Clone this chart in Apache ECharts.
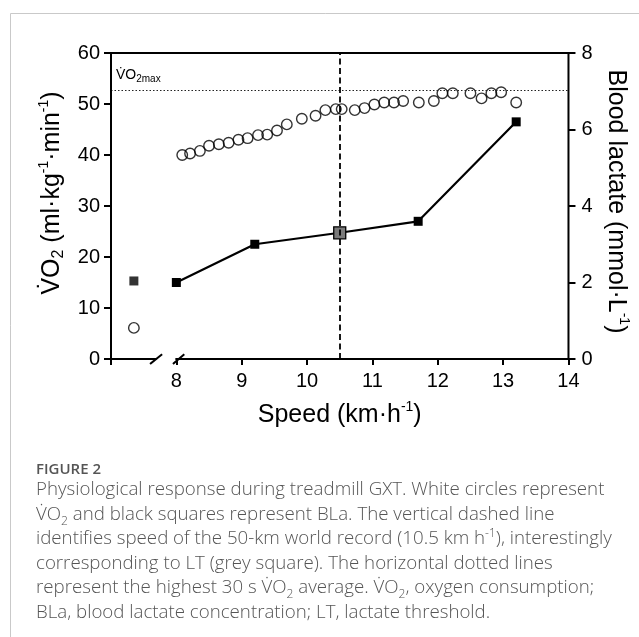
<!DOCTYPE html>
<html>
<head>
<meta charset="utf-8">
<script src="https://cdn.jsdelivr.net/npm/echarts@6/dist/echarts.min.js"></script>
<style>
  html, body { margin: 0; padding: 0; background: #fff; }
  #chart { width: 639px; height: 637px; }
  .cap { position: absolute; left: 36px; color: #555; font-family: "Open Sans", Lato, sans-serif; white-space: nowrap; }
  #figno { top: 459px; font-size: 15px; line-height: 18px; font-weight: 600; }
  #captext { top: 476px; font-size: 18.7px; line-height: 24.5px; font-weight: 300; }
  #captext sub, #captext sup { font-size: 12px; line-height: 0; }
  #done { position: absolute; left: 0; top: 0; width: 0; height: 0; overflow: hidden; }
</style>
</head>
<body>
<div id="chart"></div>
<div class="cap" id="figno">FIGURE 2</div>
<div class="cap" id="captext">Physiological response during treadmill GXT. White circles represent<br>V&#775;O<sub>2</sub> and black squares represent BLa. The vertical dashed line<br>identifies speed of the 50-km world record (10.5 km h<sup>-1</sup>), interestingly<br>corresponding to LT (grey square). The horizontal dotted lines<br>represent the highest 30 s V&#775;O<sub>2</sub> average. V&#775;O<sub>2</sub>, oxygen consumption;<br>BLa, blood lactate concentration; LT, lactate threshold.</div>
<div id="done"></div>
<script>
// VO2 during the GXT (white circles)
var vo2Speed = [8.09, 8.21, 8.36, 8.50, 8.65, 8.80, 8.95, 9.09, 9.25, 9.39, 9.54, 9.69, 9.92, 10.13, 10.28, 10.44,
    10.53, 10.73, 10.88, 11.03, 11.18, 11.33, 11.47, 11.71, 11.94, 12.07, 12.23, 12.50, 12.67, 12.82, 12.97, 13.20];
var vo2 = [40.0, 40.3, 40.8, 41.8, 42.1, 42.4, 43.0, 43.3, 43.9, 44.0, 44.8, 46.0, 47.1, 47.7, 48.8, 49.0,
    49.0, 48.8, 49.2, 49.9, 50.3, 50.3, 50.6, 50.3, 50.6, 52.1, 52.1, 52.1, 51.1, 52.1, 52.3, 50.3];

// blood lactate (black squares), LT is the grey one
var blaSpeed = [8, 9.2, 10.5, 11.7, 13.2];
var bla = [2.0, 3.0, 3.3, 3.6, 6.2];
var ltSpeed = 10.5;

// rest values, drawn left of the axis break
var restPos = 7.35;
var restVO2 = 6.1;
var restBLa = 2.04;

var vo2max = 52.7;
var recordSpeed = 10.5;

// axis ranges and the x axis break
var xMin = 7, xMax = 14;
var yMin = 0, yMax = 60;
var breakFrom = 7.68;
var breakTo = 8;

var chart = echarts.init(document.getElementById('chart'));
var font = 'Liberation Sans, Arial, sans-serif';

var blaData = blaSpeed.map(function (s, i) {
    var p = { value: [s, bla[i]] };
    if (s === ltSpeed) {
        p.symbolSize = 12;
        p.itemStyle = { color: '#7a7a7a', borderColor: '#000', borderWidth: 1.3 };
    }
    return p;
});

// frame segments [x1, y1, x2, y2] in axis units (left axis for y)
var frame = [
    [xMin, yMin, breakFrom, yMin],
    [breakTo, yMin, xMax, yMin],
    [breakFrom - 0.07, -0.85, breakFrom + 0.09, 0.8],
    [breakTo - 0.04, -0.85, breakTo + 0.11, 0.8],
    [xMin, yMin, xMin, yMax],
    [xMax, yMin, xMax, yMax],
    [xMin, yMax, xMax, yMax]
];

function axTick(len) {
    return { show: true, length: len, lineStyle: { color: '#000', width: 2 } };
}

var option = {
    animation: false,
    grid: { left: 111, right: 70, top: 53, bottom: 278 },
    xAxis: [{
        type: 'value', min: xMin, max: xMax, interval: 1, position: 'bottom',
        axisLine: { show: false, onZero: false },
        axisTick: axTick(6),
        axisLabel: {
            margin: 12, fontSize: 20, color: '#000', fontFamily: font,
            formatter: function (v) { return v === xMin ? '' : v; }
        },
        splitLine: { show: false },
        name: '{t|Speed (km·h}{sup|-1}{t|)}',
        nameLocation: 'middle', nameGap: 41,
        nameTextStyle: {
            rich: {
                t: { fontSize: 25, fontFamily: font, color: '#000', lineHeight: 30 },
                sup: { fontSize: 14, fontFamily: font, color: '#000', verticalAlign: 'top' }
            }
        }
    }],
    yAxis: [{
        type: 'value', min: yMin, max: yMax, interval: 10, position: 'left',
        axisLine: { show: false, onZero: false },
        axisTick: axTick(7),
        axisLabel: { margin: 11, fontSize: 20, color: '#000', fontFamily: font },
        splitLine: { show: false },
        name: '{t|V\u0307O}{sub|2}{t| (ml·kg}{sup|-1}{t|·min}{sup|-1}{t|)}',
        nameLocation: 'middle', nameGap: 38, nameRotate: 90,
        nameTextStyle: {
            padding: [0, 0, 0, 26],
            rich: {
                t: { fontSize: 25, fontFamily: font, color: '#000', lineHeight: 30 },
                sub: { fontSize: 16, fontFamily: font, color: '#000', verticalAlign: 'bottom' },
                sup: { fontSize: 14, fontFamily: font, color: '#000', verticalAlign: 'top' }
            }
        }
    }, {
        type: 'value', min: 0, max: 8, interval: 2, position: 'right',
        axisLine: { show: false, onZero: false },
        axisTick: axTick(7),
        axisLabel: { margin: 13, fontSize: 20, color: '#000', fontFamily: font },
        splitLine: { show: false },
        name: '{t|Blood lactate (mmol·L}{sup|-1}{t|)}',
        nameLocation: 'middle', nameGap: 30, nameRotate: -90,
        nameTextStyle: {
            padding: [0, 9, 0, 0],
            rich: {
                t: { fontSize: 25, fontFamily: font, color: '#000', lineHeight: 30 },
                sup: { fontSize: 14, fontFamily: font, color: '#000', verticalAlign: 'top' }
            }
        }
    }],
    series: [{
        // axis frame with the broken x axis and its two slashes
        type: 'custom', coordinateSystem: 'cartesian2d', xAxisIndex: 0, yAxisIndex: 0,
        silent: true, clip: false, z: 5,
        encode: { x: [0, 2], y: [1, 3] },
        data: frame,
        renderItem: function (params, api) {
            var a = api.coord([api.value(0), api.value(1)]);
            var b = api.coord([api.value(2), api.value(3)]);
            return {
                type: 'line',
                shape: { x1: a[0], y1: a[1], x2: b[0], y2: b[1] },
                style: { stroke: '#000', lineWidth: 2, lineCap: 'square' }
            };
        }
    }, {
        name: 'VO2', type: 'scatter', xAxisIndex: 0, yAxisIndex: 0,
        symbol: 'circle', symbolSize: 10.5,
        itemStyle: { color: 'rgba(0,0,0,0)', borderColor: '#000', borderWidth: 1.4 },
        data: vo2Speed.map(function (s, i) { return [s, vo2[i]]; }).concat([[restPos, restVO2]]),
        markLine: {
            silent: true, symbol: 'none', animation: false,
            data: [{
                yAxis: vo2max,
                lineStyle: { color: '#222', width: 1.2, type: [1.5, 2] },
                label: {
                    show: true, position: 'insideStartTop', distance: [5, 6],
                    formatter: '{t|V\u0307O}{sub|2max}',
                    rich: {
                        t: { fontSize: 14, fontFamily: font, color: '#000', lineHeight: 18 },
                        sub: { fontSize: 10, fontFamily: font, color: '#000', verticalAlign: 'bottom' }
                    }
                }
            }, {
                xAxis: recordSpeed,
                lineStyle: { color: '#000', width: 1.8, type: [6, 3.5] },
                label: { show: false }
            }]
        }
    }, {
        name: 'BLa', type: 'line', xAxisIndex: 0, yAxisIndex: 1,
        symbol: 'rect', symbolSize: 9,
        lineStyle: { color: '#000', width: 2.2 },
        itemStyle: { color: '#000' },
        data: blaData,
        z: 3
    }, {
        name: 'BLa rest', type: 'scatter', xAxisIndex: 0, yAxisIndex: 1,
        symbol: 'rect', symbolSize: 9,
        itemStyle: { color: '#000' },
        data: [[restPos, restBLa]]
    }],
    graphic: [{
        type: 'rect', silent: true, z: -10,
        shape: { x: 10.5, y: 13.5, width: 700, height: 700 },
        style: { fill: 'none', stroke: '#c9c9c9', lineWidth: 1 }
    }]
};

chart.setOption(option);

// the frame only showed up reliably after a second, forced repaint
setTimeout(function () {
    var zr = chart.getZr();
    zr.storage.getDisplayList(true);
    zr.refreshImmediately();
    var ctx = document.querySelector('#chart canvas').getContext('2d');
    var px = ctx.getImageData(111, 200, 1, 1).data;
    document.getElementById('done').textContent = px[3] + ' ';
}, 100);
</script>
</body>
</html>
